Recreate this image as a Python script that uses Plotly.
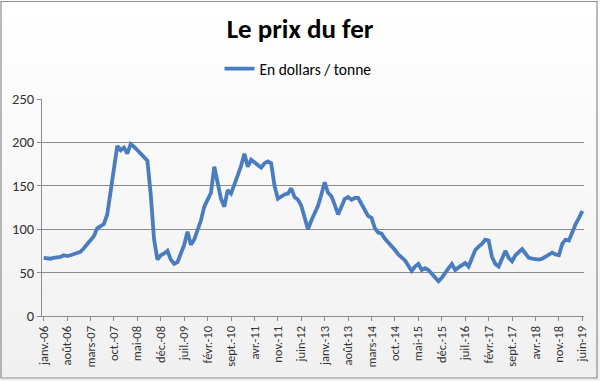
import plotly.graph_objects as go

# Monthly iron ore price, Jan 2006 .. Jun 2019 (USD / tonne)
prices = [
    67, 66, 66, 67, 67, 68, 70, 69, 70, 71, 72, 74,          # 2006
    78, 83, 88, 92, 101, 103, 106, 117, 145, 175, 196, 191,  # 2007
    194, 187, 198, 195, 191, 186, 182, 179, 140, 88, 65, 70, # 2008
    72, 75, 65, 60, 62, 72, 82, 97, 82, 88, 98, 110,         # 2009
    126, 133, 142, 172, 155, 135, 126, 145, 141, 153, 162, 173,  # 2010
    187, 172, 180, 177, 174, 171, 176, 178, 176, 150, 135, 138,  # 2011
    140, 141, 147, 137, 134, 127, 114, 100, 110, 119, 127, 140,  # 2012
    154, 142, 138, 128, 117, 126, 135, 137, 134, 136, 136, 129,  # 2013
    122, 115, 113, 101, 96, 95, 89, 85, 80, 76, 71, 67,      # 2014
    64, 58, 52, 57, 60, 53, 55, 53, 49, 44, 40, 44,          # 2015
    50, 55, 60, 53, 56, 58, 61, 57, 68, 76, 80, 83,          # 2016
    88, 87, 68, 60, 57, 67, 75, 67, 63, 70, 73, 77,          # 2017
    72, 67, 66, 65, 65, 66, 68, 71, 73, 71, 70, 83,          # 2018
    88, 87, 97, 106, 113, 121,                               # 2019
]

month_names = ["janv.", "févr.", "mars", "avr.", "mai", "juin",
               "juil.", "août", "sept.", "oct.", "nov.", "déc."]
categories = [f"{month_names[i % 12]}-{(6 + i // 12):02d}" for i in range(len(prices))]

tick_step = 7
tick_labels = [categories[i] for i in range(0, len(categories), tick_step)]

series_name = "En dollars / tonne"
title_text = "Le prix du fer"
y_ticks = [0, 50, 100, 150, 200, 250]

idx = list(range(len(prices)))

fig = go.Figure()
fig.add_trace(go.Scatter(
    x=idx, y=prices, mode="lines", name=series_name,
    line=dict(color="#4a7dbf", width=3.8),
))

PL, PT, PW, PH = 42, 99, 542, 217  # plot area in pixels


def px_x(x):
    return (x - PL) / PW


def px_y(y):
    return (PT + PH - y) / PH


shapes = []
n_bands = 40
for k in range(n_bands):
    t = k / (n_bands - 1)
    c = int(round(255 - t * 15))
    ya = 381 * k / n_bands
    yb = 381 * (k + 1) / n_bands
    shapes.append(dict(type="rect", xref="paper", yref="paper",
                       x0=px_x(0), x1=px_x(600),
                       y0=px_y(yb + 0.5), y1=px_y(ya),
                       fillcolor=f"rgb({c},{c},{c})", line=dict(width=0),
                       layer="below"))
# outer border
shapes.append(dict(type="rect", xref="paper", yref="paper",
                   x0=px_x(1), x1=px_x(597),
                   y0=px_y(378), y1=px_y(1.5),
                   line=dict(color="#8c8c8c", width=1.2),
                   fillcolor="rgba(0,0,0,0)", layer="above"))

font_fam = "Carlito, Open Sans, Liberation Sans, sans-serif"

fig.update_layout(
    width=600, height=381,
    margin=dict(l=PL, r=600 - PL - PW, t=PT, b=381 - PT - PH),
    paper_bgcolor="white",
    plot_bgcolor="rgba(0,0,0,0)",
    font=dict(family=font_fam, color="#333333"),
    title=dict(text=f"<b>{title_text}</b>", x=0.5, xanchor="center",
               y=1 - 29 / 381, yanchor="middle",
               font=dict(size=27, color="black", family=font_fam)),
    showlegend=True,
    legend=dict(orientation="h", x=px_x(298), xanchor="center",
                y=px_y(69), yanchor="middle",
                bgcolor="rgba(0,0,0,0)",
                font=dict(size=15.5, color="black", family=font_fam),
                itemwidth=30),
    shapes=shapes,
    xaxis=dict(
        range=[-0.5, len(prices) - 0.5],
        tickmode="array",
        tickvals=list(range(0, len(prices), tick_step)),
        ticktext=tick_labels,
        tickangle=-90,
        ticks="outside", ticklen=4, tickcolor="#8c8c8c",
        showline=True, linecolor="#8c8c8c", linewidth=1,
        showgrid=False, zeroline=False,
        tickfont=dict(size=12.5, color="#333333"),
    ),
    yaxis=dict(
        range=[0, 250],
        tickvals=y_ticks,
        ticks="outside", ticklen=4, tickcolor="#8c8c8c",
        showline=True, linecolor="#8c8c8c", linewidth=1,
        showgrid=True, gridcolor="#8c8c8c", gridwidth=1,
        zeroline=False,
        tickfont=dict(size=14.5, color="#333333"),
    ),
)

fig.write_html("out.html",
               config={"displayModeBar": False},
               post_script="document.body.style.margin='0px';document.body.style.overflow='hidden';")
